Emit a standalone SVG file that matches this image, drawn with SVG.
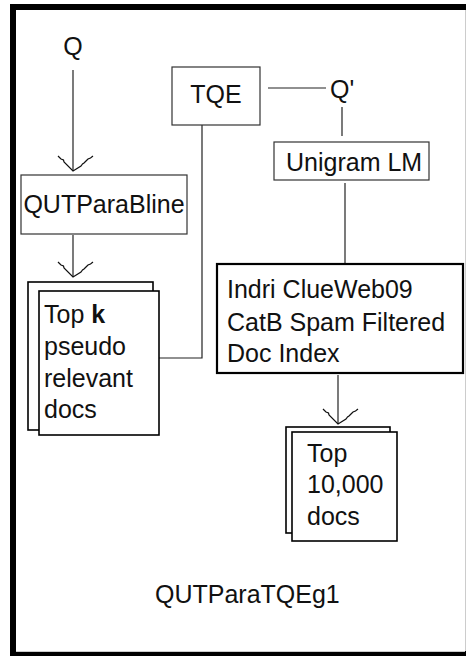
<svg xmlns="http://www.w3.org/2000/svg" width="466" height="656" viewBox="0 0 466 656">
<style>
text{font-family:"Liberation Sans",Arial,sans-serif;font-size:25px;fill:#111}
.box{fill:#fff;stroke:#333;stroke-width:1.2}
.bold{fill:#fff;stroke:#000;stroke-width:2.2}
.doc{fill:#fff;stroke:#000;stroke-width:1.6}
.ln{fill:none;stroke:#222;stroke-width:1.2}
</style>
<defs>
<marker id="ah" markerUnits="userSpaceOnUse" orient="auto" markerWidth="40" markerHeight="40" refX="0" refY="0" overflow="visible">
<path d="M-15,15 L-12,12 L-11,9.5 L-9,9 L0,0 L-5,-8 L-7,-9.5 L-8,-11 L-10,-13 L-12,-15 L-13,-17.5 L-15,-20" fill="none" stroke="#111" stroke-width="1.2"/>
</marker>
</defs>
<g id="frame">
<rect x="10" y="4" width="456" height="652" fill="#000"/>
<rect x="16" y="10" width="449" height="641" fill="#fff"/>
<line x1="465.5" y1="10" x2="465.5" y2="651" stroke="#ccc" stroke-width="1"/>
<line x1="16" y1="651.5" x2="465" y2="651.5" stroke="#ccc" stroke-width="1"/>
</g>
<g id="connectors">
<line class="ln" x1="73" y1="70" x2="73" y2="171" marker-end="url(#ah)"/>
<line class="ln" x1="73" y1="235" x2="73" y2="277" marker-end="url(#ah)"/>
<polyline class="ln" points="159,358 202,358 202,125"/>
<line class="ln" x1="268" y1="88" x2="326" y2="88"/>
<line class="ln" x1="342" y1="107" x2="342" y2="136"/>
<line class="ln" x1="345" y1="183" x2="345" y2="264"/>
<line class="ln" x1="338" y1="375" x2="338" y2="424" marker-end="url(#ah)"/>
</g>
<g id="q"><text x="73" y="55" text-anchor="middle">Q</text></g>
<g id="qutparabline">
<rect class="box" x="21" y="175" width="166" height="59"/>
<text x="104" y="213" text-anchor="middle">QUTParaBline</text>
</g>
<g id="tqe">
<rect class="box" x="172" y="67" width="88" height="58"/>
<text x="216" y="103" text-anchor="middle">TQE</text>
</g>
<g id="qprime"><text x="330" y="98">Q'</text></g>
<g id="unigram">
<rect class="box" x="274" y="142" width="155" height="38"/>
<text x="286" y="171">Unigram LM</text>
</g>
<g id="indri">
<rect class="bold" x="217" y="264" width="246" height="109"/>
<text x="227" y="298">Indri ClueWeb09</text>
<text x="227" y="331">CatB Spam Filtered</text>
<text x="227" y="362">Doc Index</text>
</g>
<g id="topk">
<rect class="doc" x="28" y="282" width="125" height="148"/>
<rect class="doc" x="39" y="291" width="120" height="144"/>
<text x="44" y="323">Top <tspan font-weight="bold">k</tspan></text>
<text x="44" y="355">pseudo</text>
<text x="44" y="387">relevant</text>
<text x="44" y="418">docs</text>
</g>
<g id="top10000">
<rect class="doc" x="286" y="427" width="104" height="106"/>
<rect class="doc" x="292" y="432" width="105" height="109"/>
<text x="307" y="462">Top</text>
<text x="307" y="493">10,000</text>
<text x="307" y="525">docs</text>
</g>
<g id="caption"><text x="155" y="603">QUTParaTQEg1</text></g>
</svg>
